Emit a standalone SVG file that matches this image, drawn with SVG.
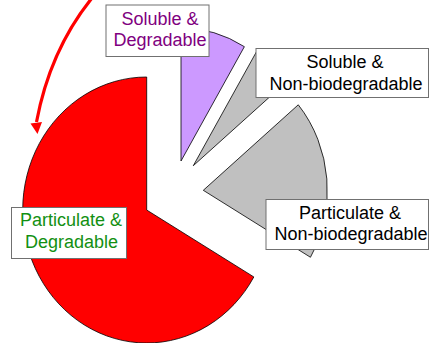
<svg xmlns="http://www.w3.org/2000/svg" width="435" height="343" viewBox="0 0 435 343">
<defs>
<style>
.slice{stroke:#000;stroke-width:0.8}
.box{fill:#fff;stroke:#707070;stroke-width:1}
.lbl{font-family:"Liberation Sans",Arial,sans-serif;font-size:18px;text-anchor:middle}
</style>
<marker id="ah" markerWidth="6" markerHeight="6" refX="3" refY="3" orient="auto" markerUnits="userSpaceOnUse" viewBox="0 0 6 6">
<path d="M0,0 L6,3 L0,6 Z" fill="#f00"/>
</marker>
</defs>
<rect width="435" height="343" fill="#fff"/>
<g id="slice-red"><path class="slice" fill="#f00" d="M146.7,210 L253.84,276.95 A124,133 0 1 1 146.7,77 Z"/></g>
<g id="slice-purple"><path class="slice" fill="#cc99ff" d="M181,161 L181,28 A124,133 0 0 1 244.37,46.68 Z"/></g>
<g id="slice-gray1"><path class="slice" fill="#c0c0c0" d="M193.3,165.7 L256.67,51.38 A124,133 0 0 1 288.27,80.19 Z"/></g>
<g id="slice-gray2"><path class="slice" fill="#c0c0c0" d="M203.3,190.3 L298.27,104.79 A124,133 0 0 1 310.44,257.25 Z"/></g>
<g id="connectors">
<path d="M92,-2 Q50,50 36.5,122" fill="none" stroke="#f00" stroke-width="3.2"/>
<path d="M30.5,123.5 L42,122 L37.5,134 Z" fill="#f00"/>
</g>
<g id="label-soluble-degradable">
<rect class="box" x="106" y="5" width="103" height="51.5"/>
<text class="lbl" fill="#800080" x="160" y="25">Soluble &amp;</text>
<text class="lbl" fill="#800080" x="160" y="46">Degradable</text>
</g>
<g id="label-soluble-nonbio">
<rect class="box" x="256" y="48.5" width="172.5" height="49"/>
<text class="lbl" fill="#000" x="345" y="68">Soluble &amp;</text>
<text class="lbl" fill="#000" x="346" y="89.5">Non-biodegradable</text>
</g>
<g id="label-particulate-nonbio">
<rect class="box" x="266" y="199.5" width="162.5" height="50"/>
<text class="lbl" fill="#000" x="350" y="218.5">Particulate &amp;</text>
<text class="lbl" fill="#000" x="351" y="240">Non-biodegradable</text>
</g>
<g id="label-particulate-degradable">
<rect class="box" x="11.5" y="207.5" width="115" height="51"/>
<text class="lbl" fill="#129012" x="71" y="226">Particulate &amp;</text>
<text class="lbl" fill="#129012" x="71.5" y="247.5">Degradable</text>
</g>
</svg>
